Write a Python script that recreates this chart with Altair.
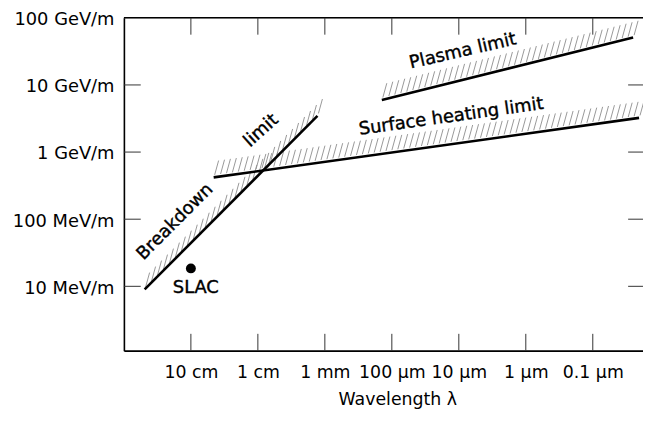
import json
import numpy as np
import pandas as pd
import altair as alt

# ---------------- data ----------------
x_tick_values = [1e-1, 1e-2, 1e-3, 1e-4, 1e-5, 1e-6, 1e-7]          # wavelength in m
x_tick_labels = ["10 cm", "1 cm", "1 mm", "100 µm", "10 µm", "1 µm", "0.1 µm"]
y_tick_values = [1e7, 1e8, 1e9, 1e10, 1e11]                          # gradient in V/m
y_tick_labels = ["10 MeV/m", "100 MeV/m", "1 GeV/m", "10 GeV/m", "100 GeV/m"]

limit_names = ["Breakdown", "Surface heating", "Plasma"]
limit_lam_start = [0.49, 0.0457, 1.41e-4]
limit_lam_end = [1.29e-3, 2.04e-8, 2.5e-8]
limit_E_start = [9.0e6, 4.2e8, 5.96e9]
limit_E_end = [3.46e9, 3.23e9, 5.07e10]

slac_lam = [0.1]
slac_E = [1.85e7]

label_text = ["Breakdown", "limit", "Plasma limit", "Surface heating limit", "SLAC"]
label_lam = [0.172, 8.9e-3, 8.7e-6, 1.3e-5, 0.0844]
label_E = [9.1e7, 2.07e9, 3.15e10, 3.34e9, 9.3e6]
label_angle = [315, 318, 347, 352, 0]

# ---------------- layout / style ----------------
W, H = 524, 336
X_DOMAIN = [1.78e-8, 1.0]
Y_DOMAIN = [1.1e6, 1e11]
FONT = "DejaVu Sans"
px_per_dec_x = W / (np.log10(X_DOMAIN[1]) - np.log10(X_DOMAIN[0]))
px_per_dec_y = H / (np.log10(Y_DOMAIN[1]) - np.log10(Y_DOMAIN[0]))

x_expr = json.dumps(x_tick_labels, ensure_ascii=False) + "[round(-log(datum.value)/LN10)-1]"
y_expr = json.dumps(y_tick_labels, ensure_ascii=False) + "[round(log(datum.value)/LN10)-7]"

x_axis = alt.Axis(values=x_tick_values, labelExpr=x_expr, ticks=False, tickSize=0, grid=False,
                  domain=True, domainColor="black", domainWidth=1.6,
                  labelFont=FONT, labelFontSize=17.5, labelColor="black", labelPadding=13,
                  labelFlush=False, labelOverlap=False,
                  title="Wavelength λ", titleFont=FONT, titleFontSize=17.5, titleFontWeight="normal",
                  titleColor="black", titleX=276, titleY=54, titleAlign="center",
                  titleBaseline="alphabetic")
y_axis = alt.Axis(values=y_tick_values, labelExpr=y_expr, ticks=False, tickSize=0, grid=False,
                  domain=True, domainColor="black", domainWidth=1.6,
                  labelFont=FONT, labelFontSize=18, labelColor="black", labelPadding=10,
                  labelOffset=2, labelFlush=False, labelOverlap=False, title=None)

xs = alt.Scale(type="log", domain=X_DOMAIN, reverse=True)
ys = alt.Scale(type="log", domain=Y_DOMAIN)


def X(f):
    return alt.X(f + ":Q", scale=xs, axis=x_axis)


def Y(f):
    return alt.Y(f + ":Q", scale=ys, axis=y_axis)


# limit lines
line_rows = []
for i, n in enumerate(limit_names):
    line_rows.append({"name": n, "lam": limit_lam_start[i], "E": limit_E_start[i]})
    line_rows.append({"name": n, "lam": limit_lam_end[i], "E": limit_E_end[i]})
lines_df = pd.DataFrame(line_rows)

# hatch decoration along the upper side of each limit line (style only)
HATCH_SPACING = 6.0   # px
h0 = (1.0, 2.5)       # start offset (dx, dy up) px
h1 = (5.0, 17.0)      # end offset px
hatch_rows = []
for i, n in enumerate(limit_names):
    la0, la1 = np.log10(limit_lam_start[i]), np.log10(limit_lam_end[i])
    le0, le1 = np.log10(limit_E_start[i]), np.log10(limit_E_end[i])
    span_px = abs(la1 - la0) * px_per_dec_x
    k = int(round(span_px / HATCH_SPACING))
    for t in np.linspace(0, 1, k + 1):
        lx = la0 + (la1 - la0) * t
        ly = le0 + (le1 - le0) * t
        hatch_rows.append({
            "lam": 10 ** (lx - h0[0] / px_per_dec_x), "E": 10 ** (ly + h0[1] / px_per_dec_y),
            "lam2": 10 ** (lx - h1[0] / px_per_dec_x), "E2": 10 ** (ly + h1[1] / px_per_dec_y)})
hatch_df = pd.DataFrame(hatch_rows)

labels_df = pd.DataFrame({"text": label_text, "lam": label_lam, "E": label_E, "angle": label_angle})
slac_df = pd.DataFrame({"lam": slac_lam, "E": slac_E})
xt_df = pd.DataFrame({"lam": x_tick_values})
yt_df = pd.DataFrame({"E": y_tick_values[:-1]})
one = pd.DataFrame({"a": [0]})

TICK_COLOR = "#333333"
top_border = alt.Chart(one).mark_rule(color="black", strokeWidth=1.6).encode(
    x=alt.value(0), x2=alt.value(W), y=alt.value(0))
x_ticks_bottom = alt.Chart(xt_df).mark_rule(color=TICK_COLOR, strokeWidth=1).encode(
    x=X("lam"), y=alt.value(H - 17), y2=alt.value(H))
x_ticks_top = alt.Chart(xt_df).mark_rule(color=TICK_COLOR, strokeWidth=1).encode(
    x=X("lam"), y=alt.value(0), y2=alt.value(17))
y_ticks_left = alt.Chart(yt_df).mark_rule(color=TICK_COLOR, strokeWidth=1).encode(
    y=Y("E"), x=alt.value(0), x2=alt.value(17))
y_ticks_right = alt.Chart(yt_df).mark_rule(color=TICK_COLOR, strokeWidth=1).encode(
    y=Y("E"), x=alt.value(W - 15), x2=alt.value(W))

hatch = alt.Chart(hatch_df).mark_rule(color="#8c8c8c", strokeWidth=0.9).encode(
    x=X("lam"), y=Y("E"), x2="lam2:Q", y2="E2:Q")

lines = alt.Chart(lines_df).mark_line(color="black", strokeWidth=2.6).encode(
    x=X("lam"), y=Y("E"), detail="name:N")

slac = alt.Chart(slac_df).mark_point(filled=True, color="black", size=100, opacity=1).encode(
    x=X("lam"), y=Y("E"))

texts = alt.Chart(labels_df).mark_text(font=FONT, fontSize=18, color="black",
                                       stroke="black", strokeWidth=0.4,
                                       align="center", baseline="middle").encode(
    x=X("lam"), y=Y("E"), text="text:N", angle=alt.Angle("angle:Q", scale=None))

chart = alt.layer(
    top_border, x_ticks_bottom, x_ticks_top, y_ticks_left, y_ticks_right,
    hatch, lines, slac, texts
).properties(
    width=W, height=H,
    autosize=alt.AutoSizeParams(type="none"),
    padding={"left": 117, "top": 8, "right": 0, "bottom": 60},
).configure_view(stroke=None).configure(background="white")

chart.save("out.html", embed_options={"renderer": "svg", "actions": False})
